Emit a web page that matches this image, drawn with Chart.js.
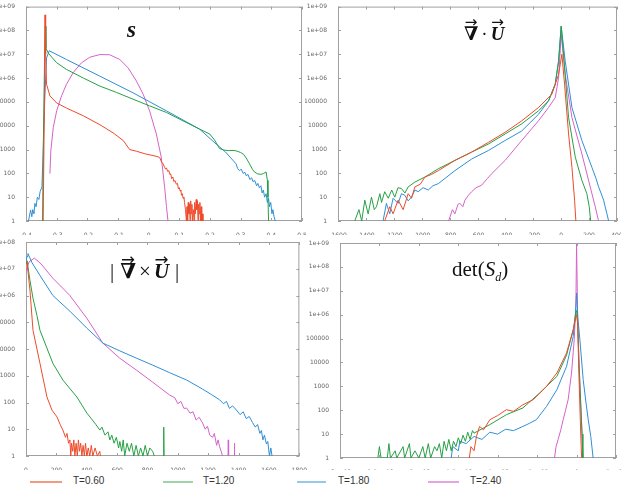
<!DOCTYPE html>
<html>
<head>
<meta charset="utf-8">
<script src="https://cdn.jsdelivr.net/npm/chart.js@4.4.0/dist/chart.umd.min.js"></script>
<style>
html, body { margin: 0; padding: 0; background: #fff; overflow: hidden; width: 621px; height: 490px; }
.panel { position: absolute; }
.title { position: absolute; font-family: "Liberation Serif", "DejaVu Serif", serif; color: #111; white-space: nowrap; line-height: 1; }
.v { position: relative; display: inline-block; }
.ar { position: absolute; left: 0; right: 0; top: -0.62em; text-align: center; font-family: "DejaVu Sans", sans-serif; font-size: 0.8em; font-weight: normal; font-style: normal; line-height: 1; }
.gap { margin: 0 3px; }
.lg-line { position: absolute; top: 481px; height: 0; border-top: 2px solid; }
.lg-text { position: absolute; top: 475px; font-family: "Liberation Sans", Arial, sans-serif; font-size: 10px; color: #333; }
</style>
</head>
<body>

<canvas id="c1" class="panel" width="310" height="235" style="left:0;top:0"></canvas>
<canvas id="c2" class="panel" width="325" height="235" style="left:305px;top:0"></canvas>
<canvas id="c3" class="panel" width="310" height="235" style="left:0;top:235px"></canvas>
<canvas id="c4" class="panel" width="325" height="235" style="left:305px;top:235px"></canvas>

<div class="title" style="left:127px;top:18px;font-size:23px;font-weight:bold;font-style:italic">s</div>
<div class="title" style="left:464px;top:24px;font-size:19px"><span class="v"><b>∇</b><span class="ar">→</span></span><span class="gap">·</span><span class="v"><b><i>U</i></b><span class="ar">→</span></span></div>
<div class="title" style="left:110px;top:261px;font-size:21px">|<span class="gap"></span><span class="v"><b>∇</b><span class="ar">→</span></span><span class="gap">×</span><span class="v"><b><i>U</i></b><span class="ar">→</span></span><span class="gap"></span>|</div>
<div class="title" style="left:452px;top:259px;font-size:21px">det(<i>S</i><sub style="font-size:12px"><i>d</i></sub>)</div>

<div class="lg-line" style="left:30px;width:32px;border-color:#f29a80"></div>
<div class="lg-text" style="left:73px">T=0.60</div>
<div class="lg-line" style="left:163px;width:30px;border-color:#9fd3a8"></div>
<div class="lg-text" style="left:203px">T=1.20</div>
<div class="lg-line" style="left:297px;width:29px;border-color:#96c8ea"></div>
<div class="lg-text" style="left:338px">T=1.80</div>
<div class="lg-line" style="left:428px;width:31px;border-color:#e4a6de"></div>
<div class="lg-text" style="left:470px">T=2.40</div>

<script>
// colours of the four temperatures
const colT060 = '#ee4b2b';
const colT120 = '#27a045';
const colT180 = '#2f8fd6';
const colT240 = '#d563c8';

// ---- panel 1 : s  ([value, count])
const sT060 = [[-0.344,1],[-0.340,1.1e5],[-0.338,4.5e8],[-0.336,1e7],[-0.333,5.5e5],[-0.322,1.8e5],[-0.300,9e4],[-0.268,5.5e4],[-0.213,2.6e4],[-0.159,1.1e4],[-0.116,5e3],[-0.083,2.4e3],[-0.062,1e3],[-0.040,850],[-0.010,650],[0.014,560],[0.030,500],[0.036,460],[0.042,300],[0.047,250],[0.052,180],[0.055,150],[0.058,170],[0.062,120],[0.066,130],[0.069,90],[0.072,95],[0.075,60],[0.079,70],[0.082,45],[0.086,50],[0.090,35],[0.094,38],[0.097,22],[0.100,25],[0.103,18],[0.105,20],[0.107,12],[0.110,14],[0.112,9],[0.115,10],[0.117,6],[0.120,3],[0.123,1],[0.125,4],[0.127,1],[0.129,6],[0.131,2],[0.133,5],[0.135,1],[0.137,7],[0.139,2],[0.141,5],[0.143,1],[0.146,3],[0.148,1],[0.150,6],[0.152,2],[0.155,8],[0.157,3],[0.159,7],[0.161,1],[0.163,5],[0.165,2],[0.167,6],[0.169,1],[0.171,4],[0.173,1],[0.175,2],[0.177,1]];
const sT120 = [[-0.346,1],[-0.343,4.5e3],[-0.339,1.4e7],[-0.337,1.5e8],[-0.335,1.8e7],[-0.327,1.1e7],[-0.300,4.4e6],[-0.268,2.3e6],[-0.213,1e6],[-0.159,4.6e5],[-0.105,2.5e5],[-0.051,1.3e5],[0.003,6.8e4],[0.058,3.6e4],[0.112,1.6e4],[0.166,7.2e3],[0.199,4.5e3],[0.215,2.5e3],[0.231,1.1e3],[0.245,950],[0.260,900],[0.275,920],[0.285,880],[0.300,750],[0.310,620],[0.320,400],[0.329,250],[0.338,150],[0.345,114],[0.355,95],[0.367,91],[0.375,100],[0.383,114],[0.387,51],[0.389,10],[0.391,1]];
const sT180 = [[-0.392,1],[-0.385,2.9],[-0.381,1.5],[-0.378,3],[-0.374,2],[-0.371,5.5],[-0.367,4],[-0.363,10],[-0.358,8],[-0.354,17],[-0.348,27],[-0.344,900],[-0.339,1.1e5],[-0.333,7e6],[-0.324,1.4e7],[-0.268,6e6],[-0.159,1.2e6],[-0.051,2.4e5],[0.058,4.2e4],[0.166,7.2e3],[0.220,1.7e3],[0.250,800],[0.275,350],[0.285,250],[0.290,160],[0.296,130],[0.302,150],[0.308,100],[0.314,110],[0.318,80],[0.324,90],[0.330,55],[0.336,65],[0.340,45],[0.346,50],[0.352,30],[0.356,38],[0.361,25],[0.366,30],[0.370,15],[0.374,20],[0.378,10],[0.383,14],[0.387,6],[0.391,9],[0.394,4],[0.398,6],[0.402,2],[0.405,3],[0.409,1.5],[0.413,1]];
const sT240 = [[-0.322,97],[-0.319,900],[-0.311,8.5e3],[-0.300,4.2e4],[-0.284,1.8e5],[-0.268,5.5e5],[-0.246,1.7e6],[-0.219,4.4e6],[-0.192,7.5e6],[-0.159,9.7e6],[-0.127,9.5e6],[-0.094,6e6],[-0.067,2.7e6],[-0.040,7.5e5],[-0.018,2.1e5],[0.003,4.2e4],[0.025,4.5e3],[0.041,480],[0.052,27],[0.058,4],[0.063,1]];

// ---- panel 2 : div U
const dT060 = [[-1265,1],[-1229,4],[-1205,2],[-1169,7.5],[-1133,3],[-1097,14],[-1073,9],[-1049,27],[-1010,35],[-977,70],[-930,90],[-881,130],[-762,350],[-642,780],[-522,2e3],[-402,5.3e3],[-283,1.6e4],[-163,5.8e4],[-67,2.1e5],[-19,1.4e6],[5,1e7],[24,5.5e5],[53,4.5e3],[77,180],[96,7.5],[105,1]];
const dT120 = [[-1480,1],[-1450,3],[-1430,1],[-1408,7.5],[-1384,2],[-1360,10],[-1340,3],[-1324,4],[-1300,14],[-1288,6],[-1265,17],[-1240,9],[-1215,20],[-1193,10],[-1170,25],[-1145,23],[-1120,15],[-1097,27],[-1070,35],[-1049,43],[-977,70],[-881,156],[-762,350],[-642,780],[-522,1.7e3],[-402,4.5e3],[-283,1.2e4],[-163,4.2e4],[-91,1.1e5],[-43,5.5e5],[-19,5e6],[0,1.5e8],[17,1e7],[53,2.2e4],[101,480],[148,51],[184,14],[201,4],[211,1]];
const dT180 = [[-1277,1],[-1253,5.5],[-1229,2],[-1205,9],[-1169,5.5],[-1145,14],[-1121,12],[-1097,7],[-1073,10],[-1049,20],[-1025,17],[-990,25],[-953,20],[-920,30],[-881,37],[-762,130],[-642,400],[-522,910],[-402,2.4e3],[-283,6e3],[-163,3e4],[-91,1.1e5],[-43,5.5e5],[-19,5e6],[0,1.5e8],[29,5e6],[77,5.8e4],[148,2.4e3],[220,180],[250,60],[268,27],[285,15],[304,7.5],[315,4],[328,2],[340,1]];
const dT240 = [[-807,1],[-780,3],[-762,2],[-740,5],[-726,5.5],[-705,4],[-690,7.5],[-665,12],[-642,17],[-610,25],[-570,32],[-530,60],[-498,97],[-402,350],[-283,2.4e3],[-163,1.6e4],[-91,5.8e4],[-43,1.5e5],[-19,1e6],[0,6.6e7],[29,1.4e6],[77,2.2e4],[148,660],[208,27],[244,4],[268,1]];

// ---- panel 3 : |curl U|
const cT060 = [[0,1.5e7],[7,1.7e7],[26,1.6e6],[46,5e4],[92,2.9e3],[138,160],[171,52],[204,29],[225,15],[243,9.3],[260,5],[270,7],[280,3],[289,4],[295,1],[300,3],[308,1.5],[315,4],[322,1],[330,3],[338,1],[345,4],[352,1.5],[360,3],[368,1],[376,2.5],[384,1],[392,3],[400,1],[410,2],[420,1],[430,2.5],[440,1],[455,2],[470,1],[486,1.5],[490,1]];
const cT120 = [[0,1.5e7],[7,2e7],[26,3.7e6],[46,7.9e5],[72,1.8e5],[92,5e4],[177,2.9e3],[243,690],[335,160],[401,40],[430,25],[460,15],[486,9.3],[500,12],[520,6],[540,8],[552,4],[565,6],[580,3],[595,5],[610,2],[618,3.5],[630,1.5],[640,4],[650,1],[665,3],[680,1.5],[695,3],[710,1],[725,2.5],[740,1],[755,2],[770,1],[785,2.5],[800,1],[815,2],[834,1.5],[845,1],[870,null],[905,1],[907,12],[909,1]];
const cT180 = [[0,2e7],[7,2.9e7],[13,3.7e7],[39,1.7e7],[92,5.6e6],[177,1e6],[289,2.6e5],[401,6e4],[506,1.66e4],[618,8.5e3],[729,4.5e3],[834,2.5e3],[946,1.3e3],[1058,690],[1163,316],[1220,200],[1275,126],[1300,90],[1320,110],[1340,60],[1360,75],[1386,52],[1410,35],[1430,45],[1450,25],[1470,30],[1491,18],[1510,12],[1525,15],[1540,7],[1550,9],[1560,4],[1570,6],[1583,2.8],[1592,3.5],[1603,1],[1612,2],[1620,1]];
const cT240 = [[0,8e6],[20,1.8e7],[55,2.5e7],[100,1.5e7],[177,4.4e6],[289,1e6],[401,1.4e5],[506,1.66e4],[618,4.5e3],[729,1.6e3],[834,575],[890,330],[946,190],[980,150],[1000,90],[1020,110],[1040,60],[1058,62],[1080,40],[1100,45],[1120,22],[1140,28],[1163,17],[1180,10],[1195,13],[1210,6],[1229,5],[1240,7],[1255,2.5],[1265,4],[1275,2.2],[1285,1.5],[1294,1],[1310,null],[1330,1],[1332,4],[1334,1],[1350,null],[1370,1],[1372,3],[1374,1]];

// ---- panel 4 : det(S_d)
const eT060 = [[-1.36e8,1],[-1.34e8,3],[-1.3e8,2],[-1.27e8,8],[-1.23e8,21],[-1.18e8,15],[-1.1e8,40],[-1e8,60],[-8.9e7,105],[-8e7,90],[-6.8e7,170],[-5.5e7,275],[-3.8e7,1e3],[-2.5e7,3.6e3],[-1.27e7,2.5e4],[-4e6,2.5e5],[-1e6,8e5],[0,1e6],[1.3e6,4.5e5],[3e6,3e3],[5e6,20],[6.4e6,1]];
const eT120 = [[-2.52e8,1],[-2.50e8,3],[-2.48e8,1],[-2.4e8,1],[-2.38e8,4],[-2.36e8,1],[-2.3e8,2],[-2.28e8,1],[-2.2e8,3],[-2.18e8,1],[-2.12e8,4],[-2.1e8,1],[-2.05e8,2],[-2.0e8,1],[-1.95e8,3],[-1.92e8,1],[-1.88e8,4],[-1.85e8,1],[-1.8e8,3],[-1.77e8,2],[-1.74e8,4],[-1.71e8,1],[-1.68e8,5],[-1.65e8,2],[-1.62e8,6],[-1.59e8,2],[-1.56e8,5],[-1.53e8,3],[-1.5e8,7],[-1.47e8,4],[-1.44e8,9],[-1.41e8,5],[-1.38e8,12],[-1.35e8,6],[-1.32e8,14],[-1.3e8,11],[-1.1e8,25],[-8.9e7,65],[-6.8e7,125],[-4.7e7,520],[-2.5e7,2.6e3],[-1.27e7,2e4],[-4e6,2.5e5],[-1e6,1.2e6],[0,1.5e6],[1.5e6,4e5],[3e6,1e4],[5e6,300],[7e6,10],[8e6,1]];
const eT180 = [[-1.59e8,1],[-1.57e8,3],[-1.5e8,2],[-1.48e8,5],[-1.4e8,4],[-1.3e8,8],[-1.2e8,6],[-1.1e8,12],[-1e8,10],[-9e7,16],[-8e7,14],[-6.8e7,21],[-6e7,28],[-5.1e7,40],[-3.8e7,145],[-2.5e7,720],[-1.27e7,6.8e3],[-4.3e6,1.2e5],[-1.5e6,1e6],[0,8e6],[1.5e6,8e5],[4.2e6,9e4],[8.4e6,1.9e3],[1.2e7,200],[1.48e7,40],[1.8e7,8],[2.1e7,1]];
const eT240 = [[-2.8e7,1],[-2.6e7,3],[-2.34e7,6],[-2.0e7,15],[-1.7e7,40],[-1.4e7,100],[-1.07e7,275],[-6.4e6,3.6e3],[-3e6,9e4],[-9e5,2.2e6],[0,9e8],[1.5e6,5e5],[3e6,1.5e4],[5e6,300],[6.5e6,20],[8e6,1]];

// axis ranges / tick steps
const xRange1 = [-0.4, 0.5, 0.1];
const xRange2 = [-1600, 400, 200];
const xRange3 = [0, 1800, 200];
const xRange4 = [-3e8, 5e7, 5e7];
const decades9 = [1, 10, 100, 1000, 1e4, 1e5, 1e6, 1e7, 1e8, 1e9];
const decades8 = [1, 10, 100, 1000, 1e4, 1e5, 1e6, 1e7, 1e8];

const expLabel = (v) => {
    if (v === 0) return '0';
    const [m, e] = v.toExponential().split('e');
    const sign = e[0];
    const digits = e.slice(1).padStart(2, '0');
    return m + 'e' + sign + digits;
}
const yLabel = (v) => v >= 1e6 ? expLabel(v) : String(v);

const frame = {
    id: 'frame',
    beforeDatasetsDraw(chart) {
        const { ctx, chartArea: a, scales: { x, y } } = chart;
        ctx.save();
        ctx.strokeStyle = '#a0a0a0';
        ctx.lineWidth = 1;
        ctx.strokeRect(a.left + 0.5, a.top + 0.5, a.right - a.left - 1, a.bottom - a.top - 1);
        ctx.beginPath();
        x.ticks.forEach(t => {
            const px = Math.round(x.getPixelForValue(t.value)) + 0.5;
            ctx.moveTo(px, a.bottom); ctx.lineTo(px, a.bottom - 3);
            ctx.moveTo(px, a.top); ctx.lineTo(px, a.top + 3);
        });
        y.ticks.forEach(t => {
            const py = Math.round(y.getPixelForValue(t.value)) + 0.5;
            ctx.moveTo(a.left, py); ctx.lineTo(a.left + 3, py);
            ctx.moveTo(a.right, py); ctx.lineTo(a.right - 3, py);
        });
        ctx.stroke();
        ctx.restore();
    }
};

const makePanel = (id, series, xr, xFmt, decades, box) => {
    const datasets = series.map(([data, color]) => ({
        data: data.map(([x, y]) => ({ x: x, y: y })),
        borderColor: color,
        borderWidth: 1,
        pointRadius: 0,
        tension: 0,
        spanGaps: false
    }));
    new Chart(document.getElementById(id), {
        type: 'line',
        data: { datasets: datasets },
        plugins: [frame],
        options: {
            responsive: false,
            animation: false,
            events: [],
            layout: { padding: { left: 0, right: box.padR, top: box.padT, bottom: 0 } },
            plugins: { legend: { display: false }, tooltip: { enabled: false } },
            scales: {
                x: {
                    type: 'linear', min: xr[0], max: xr[1],
                    grid: { display: false }, border: { display: false },
                    ticks: { stepSize: xr[2], autoSkip: false, maxRotation: 0, padding: 3,
                        color: '#666', font: { size: 6, family: 'DejaVu Sans' },
                        callback: (v) => xFmt(v) },
                    afterFit: (s) => { s.height = box.xH; }
                },
                y: {
                    type: 'logarithmic', min: 1, max: decades[decades.length - 1],
                    grid: { display: false }, border: { display: false },
                    afterBuildTicks: (s) => { s.ticks = decades.map(v => ({ value: v })); },
                    ticks: { autoSkip: false, padding: 3, color: '#666',
                        font: { size: 6, family: 'DejaVu Sans' },
                        callback: (v) => yLabel(v) },
                    afterFit: (s) => { s.width = box.yW; }
                }
            }
        }
    });
}

const fmt1 = (v) => String(Number(v.toFixed(1)));
const fmtInt = (v) => String(Math.round(v));

makePanel('c1', [[sT060, colT060], [sT120, colT120], [sT180, colT180], [sT240, colT240]],
    xRange1, fmt1, decades9, { yW: 26, padR: 8, padT: 5, xH: 14 });
makePanel('c2', [[dT060, colT060], [dT120, colT120], [dT180, colT180], [dT240, colT240]],
    xRange2, fmtInt, decades9, { yW: 33, padR: 13, padT: 5, xH: 14 });
makePanel('c3', [[cT060, colT060], [cT120, colT120], [cT180, colT180], [cT240, colT240]],
    xRange3, fmtInt, decades8, { yW: 26, padR: 10, padT: 7, xH: 14 });
makePanel('c4', [[eT060, colT060], [eT120, colT120], [eT180, colT180], [eT240, colT240]],
    xRange4, expLabel, decades9, { yW: 35, padR: 14, padT: 8, xH: 12 });
</script>
</body>
</html>
